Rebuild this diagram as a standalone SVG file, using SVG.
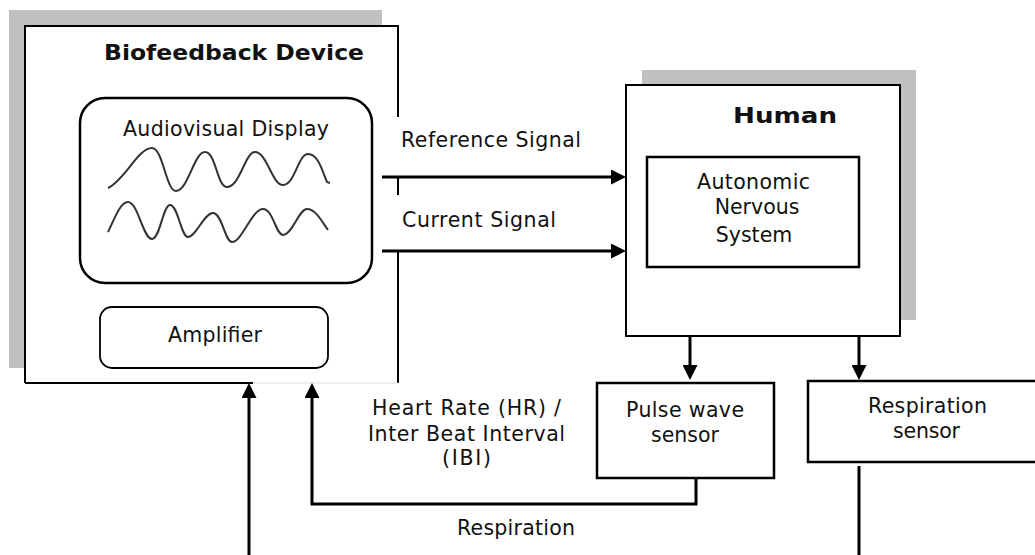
<svg xmlns="http://www.w3.org/2000/svg" width="1035" height="555" viewBox="0 0 1035 555">
<style>
text{font-family:"DejaVu Sans","Verdana",sans-serif;font-size:20.5px;fill:#111}
.b{font-weight:bold}
.box{fill:#fff;stroke:#000;stroke-width:2}
.sh{fill:#c0c0c0}
.ln{fill:none;stroke:#000;stroke-width:3}
.wave{fill:none;stroke:#333;stroke-width:2}
</style>
<defs>
<marker id="ah" viewBox="0 0 15 15" refX="7" refY="7.5" markerWidth="15" markerHeight="15" markerUnits="userSpaceOnUse" orient="auto">
<path d="M0,0 L15,7.5 L0,15 z" fill="#000"/>
</marker>
</defs>
<rect width="1035" height="555" fill="#fff"/>

<g id="device">
<rect class="sh" x="9" y="10" width="373" height="358"/>
<rect x="25" y="26" width="373" height="357" fill="#fff"/>
<path d="M25,383 L25,26 L398,26 L398,117 M398,177 L398,195 M398,252 L398,383" fill="none" stroke="#000" stroke-width="2"/>
<line x1="25" y1="383" x2="253" y2="383" stroke="#000" stroke-width="2"/>
<line x1="253" y1="383" x2="398" y2="383" stroke="#ddd" stroke-width="1"/>
<text class="b" x="104" y="60" textLength="260" lengthAdjust="spacingAndGlyphs">Biofeedback Device</text>
</g>

<g id="display">
<rect x="80" y="98" width="292" height="185" rx="25" ry="25" fill="#fff" stroke="#000" stroke-width="2.5"/>
<text x="123" y="136" textLength="206">Audiovisual Display</text>
<path class="wave" d="M108,188 C125,180 138,148 152,148 C163,148 166,191 176,191 C188,191 194,152 205,152 C216,152 217,187 227,187 C240,187 245,152 255,152 C267,152 272,185 283,185 C295,185 298,154 308,154 C318,154 322,170 327,182 L330,183"/>
<path class="wave" d="M108,232 C114,220 120,202 128,202 C138,202 143,239 152,239 C160,239 163,205 170,205 C178,205 181,237 188,237 C196,237 204,213 213,213 C222,213 225,242 232,242 C242,242 252,209 263,209 C273,209 276,235 283,235 C292,235 299,209 307,209 C316,209 322,222 328,230"/>
</g>

<g id="amplifier">
<rect x="100" y="307" width="228" height="61" rx="12" ry="12" fill="#fff" stroke="#000" stroke-width="1.8"/>
<text x="168" y="342" textLength="94">Amplifier</text>
</g>

<g id="human">
<rect class="sh" x="642" y="70" width="274" height="250"/>
<rect class="box" x="626" y="85" width="274" height="251"/>
<text class="b" x="733" y="123" font-size="23" textLength="104" lengthAdjust="spacingAndGlyphs">Human</text>
</g>

<g id="ans">
<rect x="647" y="157" width="212" height="110" fill="#fff" stroke="#000" stroke-width="2.5"/>
<text x="697" y="189" textLength="113">Autonomic</text>
<text x="757" y="214" text-anchor="middle">Nervous</text>
<text x="754" y="242" text-anchor="middle">System</text>
</g>

<g id="pulse">
<rect x="597" y="383" width="177" height="95" fill="#fff" stroke="#000" stroke-width="2.5"/>
<text x="626" y="417" textLength="118">Pulse wave</text>
<text x="651" y="442" textLength="68">sensor</text>
</g>

<g id="resp">
<rect x="808" y="381" width="240" height="81" fill="#fff" stroke="#000" stroke-width="2.5"/>
<text x="868" y="413" textLength="119">Respiration</text>
<text x="893" y="438" textLength="67">sensor</text>
</g>

<g id="connectors">
<line class="ln" x1="382" y1="177" x2="618" y2="177" marker-end="url(#ah)"/>
<line class="ln" x1="382" y1="251" x2="618" y2="251" marker-end="url(#ah)"/>
<line class="ln" x1="690" y1="336" x2="690" y2="372" marker-end="url(#ah)"/>
<line class="ln" x1="859" y1="336" x2="859" y2="372" marker-end="url(#ah)"/>
<path class="ln" d="M696,478 L696,504 L312,504 L312,391" marker-end="url(#ah)"/>
<line class="ln" x1="249" y1="555" x2="249" y2="391" marker-end="url(#ah)"/>
<line class="ln" x1="859" y1="466" x2="859" y2="555"/>
<text x="401" y="147" textLength="180">Reference Signal</text>
<text x="402" y="227" textLength="154">Current Signal</text>
<text x="372" y="415" textLength="189">Heart Rate (HR) /</text>
<text x="368" y="441" textLength="197">Inter Beat Interval</text>
<text x="442" y="465" textLength="49">(IBI)</text>
<text x="457" y="535" textLength="118">Respiration</text>
</g>
</svg>
